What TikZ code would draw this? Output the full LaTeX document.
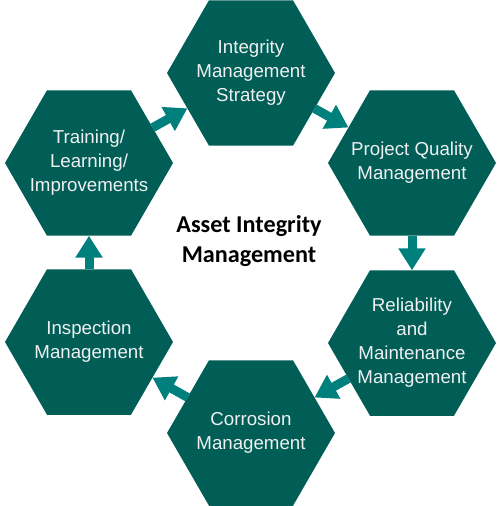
\documentclass[tikz,border=0pt]{standalone}
\usepackage{fontspec}
\setmainfont{Liberation Sans}
\newfontfamily\calibri{Carlito}
\usetikzlibrary{shapes.geometric,arrows.meta}
\definecolor{hexteal}{RGB}{0,94,87}
\definecolor{arwteal}{RGB}{0,128,124}
\tikzset{
    % Define hexagon text style
    hxlab/.style={
           text=white!94!black,
           align=center,
           inner sep=0pt,
           font=\fontsize{18.7}{24}\selectfont},
    % Define hexagon style
    hexa/.style={
           regular polygon,
           regular polygon sides=6,
           minimum size=168pt,
           inner sep=0pt,
           outer sep=0pt,
           fill=hexteal,
           label={[hxlab]center:#1}},
    % Define arrow style
    arw/.style={
           -{Triangle[length=22pt,width=26pt]},
           line width=9pt,
           draw=arwteal}
}
\begin{document}
\begin{tikzpicture}[x=1pt,y=-1pt]
\useasboundingbox (0,0) rectangle (500,506);

\node[hexa={Integrity\\Management\\Strategy}] (ims) at (251,73) {};
\node[hexa={Project Quality\\Management}] (pqm) at (412,163) {};
\node[hexa={Reliability\\and\\Maintenance\\Management}] (rmm) at (412,343) {};
\node[hexa={Corrosion\\Management}] (crm) at (251,433) {};
\node[hexa={Inspection\\Management}] (inm) at (89,342) {};
\node[hexa={Training/\\Learning/\\Improvements}] (tli) at (89,163) {};

\node[align=center, font=\calibri\bfseries\fontsize{24.2}{30}\selectfont] (aim) at (249,241) {Asset Integrity\\Management};

\draw[arw] (ims) -- (pqm);
\draw[arw] (pqm) -- (rmm);
\draw[arw] (rmm) -- (crm);
\draw[arw] (crm) -- (inm);
\draw[arw] (inm) -- (tli);
\draw[arw] (tli) -- (ims);

\end{tikzpicture}
\end{document}
